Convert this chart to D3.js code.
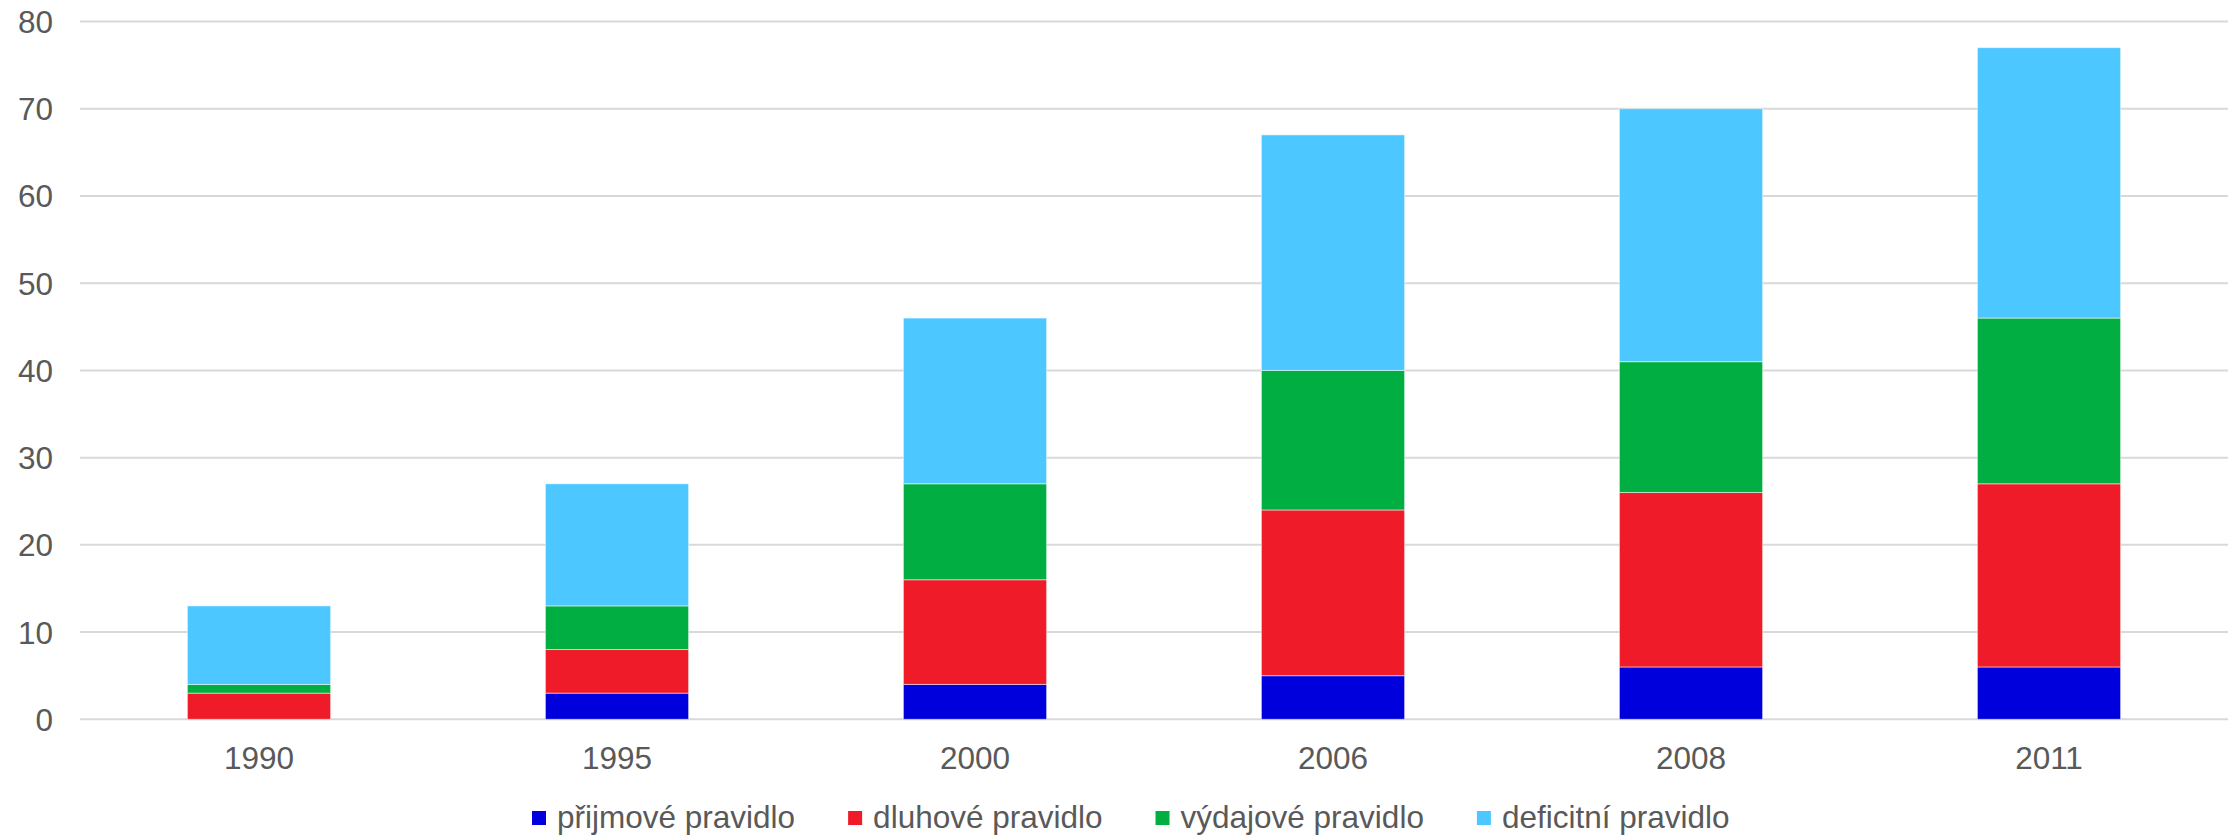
<!DOCTYPE html>
<html>
<head>
<meta charset="utf-8">
<script src="https://cdn.jsdelivr.net/npm/d3@7"></script>
<style>
  html, body { margin: 0; padding: 0; background: #fff; }
  svg { display: block; font-family: "Liberation Sans", Arial, sans-serif; }
</style>
</head>
<body>
<svg id="chart" width="2237" height="835"></svg>
<script>
// Years on the category axis
const years = ["1990", "1995", "2000", "2006", "2008", "2011"];

// Number of countries with each type of fiscal rule
const prijmove   = [0, 3, 4, 5, 6, 6];
const dluhove    = [3, 5, 12, 19, 20, 21];
const vydajove   = [1, 5, 11, 16, 15, 19];
const deficitni  = [9, 14, 19, 27, 29, 31];

const seriesNames  = ["přijmové pravidlo", "dluhové pravidlo", "výdajové pravidlo", "deficitní pravidlo"];
const seriesColors = ["#0000DC", "#EF1B28", "#00AE41", "#4DC7FF"];
const yTicks = [0, 10, 20, 30, 40, 50, 60, 70, 80];

const keys = ["prijmove", "dluhove", "vydajove", "deficitni"];
const rows = years.map((yr, i) => ({
  year: yr,
  prijmove: prijmove[i],
  dluhove: dluhove[i],
  vydajove: vydajove[i],
  deficitni: deficitni[i]
}));

const svg = d3.select("#chart");
const plot = { left: 80, right: 2228, top: 21.5, bottom: 719.3 };
const fontSize = 31.5;

const x = d3.scaleBand()
  .domain(years)
  .range([plot.left, plot.right])
  .paddingInner(0.6)
  .paddingOuter(0.3);

const y = d3.scaleLinear().domain([0, 80]).range([plot.bottom, plot.top]);

// Horizontal gridlines
svg.append("g")
  .selectAll("line")
  .data(yTicks)
  .join("line")
  .attr("x1", plot.left).attr("x2", plot.right)
  .attr("y1", d => y(d)).attr("y2", d => y(d))
  .attr("stroke", "#D9D9D9")
  .attr("stroke-width", 2);

// Y axis labels
const yAxis = d3.axisLeft(y).tickValues(yTicks).tickSize(0).tickPadding(0);
svg.append("g")
  .attr("transform", `translate(${plot.left - 27},0)`)
  .call(yAxis)
  .call(g => g.select(".domain").remove())
  .call(g => g.selectAll("text")
    .attr("font-size", fontSize)
    .attr("font-family", "Liberation Sans, Arial, sans-serif")
    .attr("fill", "#595959")
    .attr("dy", "0.35em"));

// Stacked bars
const stacked = d3.stack().keys(keys)(rows);
svg.append("g")
  .selectAll("g")
  .data(stacked)
  .join("g")
  .attr("fill", (d, i) => seriesColors[i])
  .selectAll("rect")
  .data(d => d.filter(p => p[1] > p[0]))
  .join("rect")
  .attr("x", d => x(d.data.year))
  .attr("width", x.bandwidth())
  .attr("y", d => y(d[1]))
  .attr("height", d => y(d[0]) - y(d[1]))
  .attr("stroke", "rgba(255,255,255,0.5)")
  .attr("stroke-width", 1);

// X axis labels
const xAxis = d3.axisBottom(x).tickSize(0).tickPadding(0);
svg.append("g")
  .attr("transform", `translate(0,${plot.bottom})`)
  .call(xAxis)
  .call(g => g.select(".domain").remove())
  .call(g => g.selectAll("text")
    .attr("font-size", fontSize)
    .attr("font-family", "Liberation Sans, Arial, sans-serif")
    .attr("fill", "#595959")
    .attr("dy", null)
    .attr("y", 50));

// Legend
const legend = svg.append("g").attr("font-size", fontSize).attr("fill", "#595959");
let lx = 532;
seriesNames.forEach((name, i) => {
  const item = legend.append("g").attr("transform", `translate(${lx},0)`);
  item.append("rect")
    .attr("x", 0).attr("y", 811)
    .attr("width", 14).attr("height", 14)
    .attr("fill", seriesColors[i]);
  const t = item.append("text")
    .attr("x", 25).attr("y", 828)
    .text(name);
  const w = t.node().getComputedTextLength();
  lx += 25 + w + 53;
});
</script>
</body>
</html>
